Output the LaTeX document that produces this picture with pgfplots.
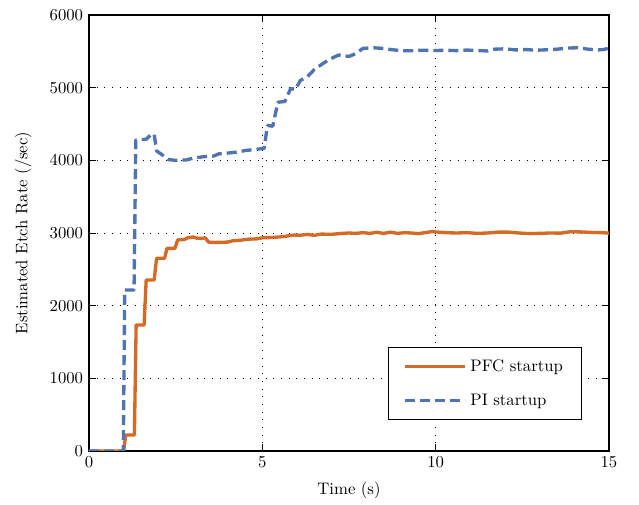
\documentclass[border=0pt]{standalone}
\usepackage{pgfplots}
\pgfplotsset{compat=1.18}
\definecolor{pfcorange}{RGB}{212,106,38}
\definecolor{piblue}{RGB}{80,116,178}

\begin{document}
\begin{tikzpicture}
\begin{axis}[
    scale only axis,
    width=311.4pt, height=261.1pt,
    xmin=0, xmax=15, ymin=0, ymax=6000,
    xtick={0,5,10,15}, ytick={0,1000,...,6000},
    xlabel={Time (s)},
    ylabel={Estimated Etch Rate (/sec)},
    ylabel shift=4pt,
    xlabel shift=2pt,
    scaled y ticks=false,
    yticklabel style={/pgf/number format/1000 sep={}},
    grid=major,
    major grid style={black, line width=0.6pt, dash pattern=on 0.6pt off 4pt},
    axis line style={line width=0.8pt},
    tick style={black, line width=0.6pt},
    legend cell align=left,
    legend style={at={(0.948,0.071)}, anchor=south east, draw=black,
        line width=0.8pt, inner xsep=9pt, inner ysep=5pt,
        row sep=8pt, font=\normalsize},
    legend image code/.code={\draw[#1] (0pt,0pt) -- (36pt,0pt);},
]
\addplot[pfcorange, line width=2pt, line join=round] table {
0 0
1.0 0
1.06 220
1.31 220
1.36 1734
1.59 1734
1.65 2353
1.88 2353
1.95 2652
2.18 2652
2.25 2789
2.48 2789
2.56 2905
2.75 2910
2.85 2935
3.0 2945
3.1 2930
3.25 2925
3.35 2935
3.45 2875
3.6 2870
3.8 2872
4.0 2875
4.15 2893
4.35 2900
4.6 2915
4.85 2920
5.0 2935
5.3 2938
5.6 2950
5.9 2972
6.1 2970
6.3 2980
6.5 2968
6.7 2985
7.0 2982
7.3 2995
7.5 3000
7.7 2995
7.9 3005
8.1 2995
8.3 3010
8.5 2995
8.7 3012
8.9 2995
9.1 3005
9.3 3000
9.5 2992
9.7 3005
9.9 3020
10.0 3015
10.3 3005
10.6 3000
10.9 3005
11.2 2995
11.5 3000
11.8 3012
12.1 3012
12.4 3000
12.7 2992
13.0 2995
13.3 3000
13.6 2998
13.9 3018
14.2 3015
14.5 3008
14.8 3005
15.0 2998
};
\addlegendentry{PFC startup}
\addplot[piblue, line width=2pt, dash pattern=on 6pt off 3pt, line join=round] table {
0 0
0.99 0
1.03 2215
1.3 2215
1.35 4280
1.65 4290
1.8 4360
1.88 4360
1.95 4130
2.1 4080
2.3 4010
2.5 4000
2.8 4005
3.0 4030
3.3 4050
3.6 4060
3.75 4090
4.0 4100
4.3 4115
4.5 4135
4.8 4150
5.05 4165
5.15 4480
5.3 4470
5.45 4800
5.65 4810
5.82 4990
5.95 4975
6.1 5100
6.3 5150
6.5 5250
6.65 5300
6.9 5380
7.2 5450
7.5 5430
7.7 5470
7.9 5540
8.2 5550
8.5 5540
8.7 5525
9.0 5510
9.3 5508
9.6 5515
10.0 5512
10.3 5515
10.6 5510
10.9 5518
11.2 5512
11.5 5505
11.7 5530
12.0 5535
12.3 5520
12.6 5525
12.9 5515
13.2 5522
13.5 5530
13.8 5545
14.1 5550
14.4 5530
14.7 5520
14.85 5525
15.0 5545
};
\addlegendentry{PI startup}
\end{axis}
% keep the reference's margins round the axis
\path (current axis.south west) ++(-53.3pt,-31.7pt) coordinate (bbsw);
\path (current axis.north east) ++(18pt,9pt) coordinate (bbne);
\path (bbsw) (bbne);
\end{tikzpicture}
\end{document}
